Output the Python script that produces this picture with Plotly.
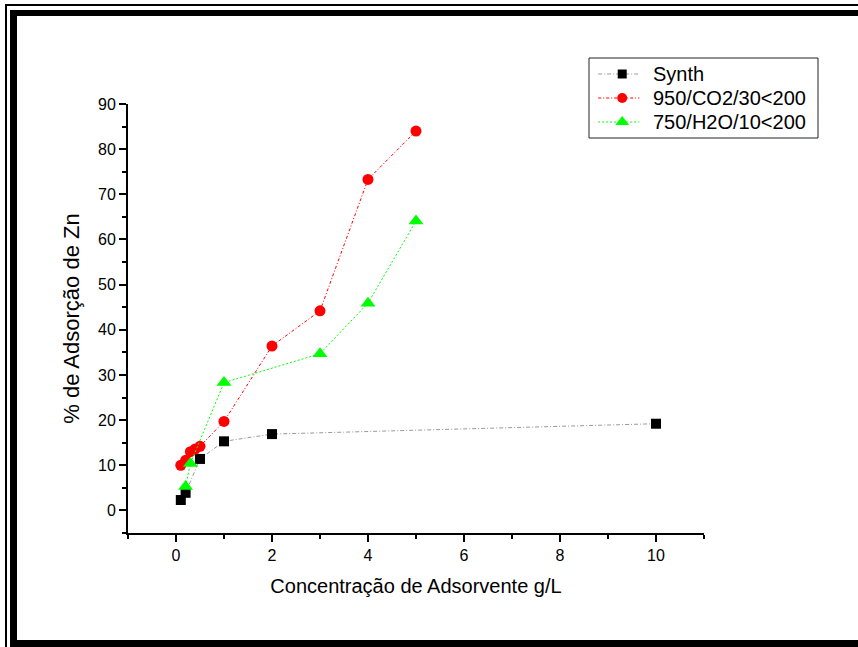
import plotly.graph_objects as go

# Adsorbent concentration (g/L) and Zn adsorption (%) for each material
synth_x = [0.1, 0.2, 0.5, 1, 2, 10]
synth_y = [2.3, 3.9, 11.4, 15.3, 16.9, 19.2]

co2_x = [0.1, 0.2, 0.3, 0.4, 0.5, 1, 2, 3, 4, 5]
co2_y = [10.0, 11.1, 13.0, 13.6, 14.2, 19.7, 36.4, 44.2, 73.3, 84.0]

h2o_x = [0.2, 0.3, 1, 3, 4, 5]
h2o_y = [5.3, 10.4, 28.3, 34.7, 45.9, 64.1]

names = ["Synth", "950/CO2/30<200", "750/H2O/10<200"]

W, H = 858, 647
FONT = "Liberation Sans, Arial, sans-serif"


def fx(x):
    """Pixel column -> paper fraction."""
    return x / W


def fy(y):
    """Pixel row (from top) -> paper fraction."""
    return (H - y) / H


# Plot area and legend box, in pixels
PLOT = dict(x0=128, x1=704, y0=104, y1=533)
LEG = dict(x0=589, x1=818, y0=58, y1=138)

styles = [
    dict(line=dict(color="#9a9a9a", width=1, dash="4px,2px,1px,2px"),
         marker=dict(symbol="square", size=10, color="black")),
    dict(line=dict(color="#ff0000", width=1, dash="3px,2px,1px,2px"),
         marker=dict(symbol="circle", size=11, color="#ff0000")),
    dict(line=dict(color="#00ff00", width=1, dash="2px,2px"),
         marker=dict(symbol="triangle-up", size=13, color="#00ff00")),
]
series = [(synth_x, synth_y), (co2_x, co2_y), (h2o_x, h2o_y)]

fig = go.Figure()
for (xs, ys), name, st in zip(series, names, styles):
    fig.add_trace(go.Scatter(x=xs, y=ys, name=name, mode="lines+markers",
                             showlegend=False, **st))

# Legend drawn on its own small axes: sample line + marker, then the label
rows = [0.2, 0.5, 0.8]          # row centres inside the legend box (top -> bottom)
sample_x = [0.04, 0.145, 0.22]  # line start, marker, line end
for name, st, r in zip(names, styles, rows):
    fig.add_trace(go.Scatter(x=[sample_x[0], sample_x[2]], y=[r, r], mode="lines",
                             line=st["line"], xaxis="x2", yaxis="y2",
                             showlegend=False, hoverinfo="skip"))
    fig.add_trace(go.Scatter(x=[sample_x[1]], y=[r], mode="markers",
                             marker=dict(st["marker"], size=st["marker"]["size"] - 1),
                             xaxis="x2", yaxis="y2", showlegend=False, hoverinfo="skip"))

annotations = [
    dict(text=name, x=0.27, y=r, xref="x2", yref="y2", xanchor="left", yanchor="middle",
         showarrow=False, font=dict(family=FONT, size=20, color="black"))
    for name, r in zip(names, rows)
]

# Double border around the picture, plus the legend box
def rect(x0, x1, y0, y1, **kw):
    d = dict(type="rect", xref="paper", yref="paper",
             x0=fx(x0), x1=fx(x1), y0=fy(y0), y1=fy(y1), layer="above")
    d.update(kw)
    return d


black = dict(fillcolor="black", line=dict(width=0))
shapes = [
    rect(5, 7, 4, H + 2, **black),
    rect(5, W + 2, 4, 6, **black),
    rect(10, 17, 10, H + 2, **black),
    rect(10, W + 2, 10, 16, **black),
    rect(10, W + 2, 640, H + 2, **black),
    rect(LEG["x0"], LEG["x1"], LEG["y0"], LEG["y1"],
         fillcolor="rgba(0,0,0,0)", line=dict(color="#222222", width=1)),
]

axis_common = dict(
    showgrid=False, zeroline=False, showline=True, linecolor="black", linewidth=2,
    ticks="outside", ticklen=7, tickwidth=1.5, tickcolor="black",
    tickfont=dict(size=16), automargin=False,
)

fig.update_layout(
    width=W, height=H,
    margin=dict(l=0, r=0, t=0, b=0, pad=0, autoexpand=False),
    paper_bgcolor="white", plot_bgcolor="white",
    font=dict(family=FONT, color="black", size=16),
    shapes=shapes,
    annotations=annotations,
    showlegend=False,
    xaxis=dict(
        axis_common,
        domain=[fx(PLOT["x0"]), fx(PLOT["x1"])],
        range=[-1, 11], tick0=0, dtick=2,
        minor=dict(dtick=1, tick0=0, ticks="outside", ticklen=4, tickwidth=1.5,
                   tickcolor="black", showgrid=False),
        title=dict(text="Concentração de Adsorvente g/L", font=dict(size=20), standoff=16),
    ),
    yaxis=dict(
        axis_common,
        domain=[fy(PLOT["y1"]), fy(PLOT["y0"])],
        range=[-5, 90], tick0=0, dtick=10,
        minor=dict(dtick=5, tick0=0, ticks="outside", ticklen=4, tickwidth=1.5,
                   tickcolor="black", showgrid=False),
        title=dict(text="% de Adsorção de Zn", font=dict(size=22), standoff=12),
    ),
    xaxis2=dict(domain=[fx(LEG["x0"]), fx(LEG["x1"])], range=[0, 1], visible=False,
                anchor="y2", fixedrange=True, automargin=False),
    yaxis2=dict(domain=[fy(LEG["y1"]), fy(LEG["y0"])], range=[1, 0], visible=False,
                anchor="x2", fixedrange=True, automargin=False),
)

fig.write_html("out.html")
